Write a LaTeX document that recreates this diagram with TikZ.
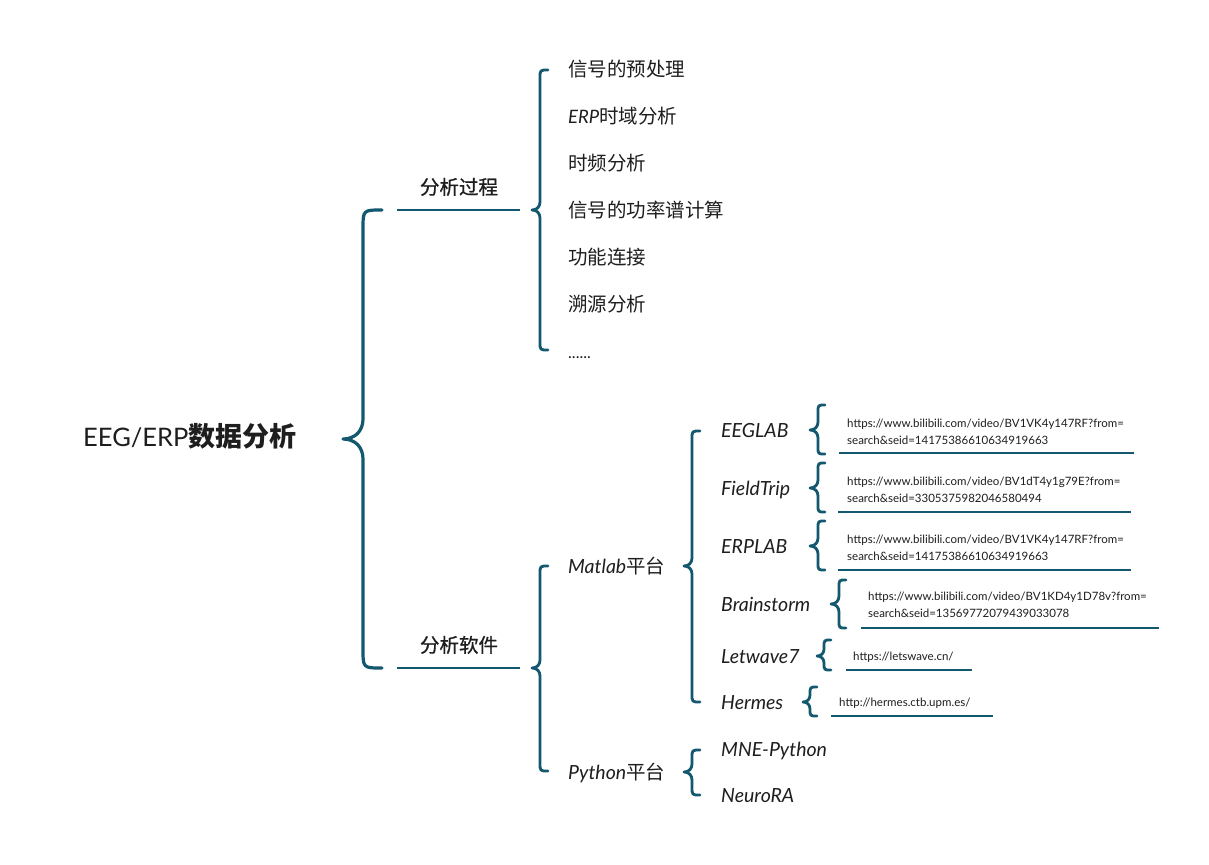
\documentclass[tikz,border=0pt]{standalone}
\usepackage{fontspec}
\setmainfont{Lato}
\newfontfamily\cjk{Noto Sans CJK SC}
\newfontfamily\cjkm[FakeBold=0.8]{Noto Sans CJK SC}
\definecolor{teal1}{HTML}{13586F}
\definecolor{ink}{HTML}{1E1E1E}
% curly brace: #1 options, #2 spine x, #3 tip y, #4 top y, #5 bottom y, #6 corner radius, #7 tip depth
\newcommand\cbr[7][]{\draw[brc,#1] ({#2+#6},#4) .. controls (#2,#4) .. (#2,{#4+#6}) -- (#2,{#3-#7}) .. controls (#2,{#3-0.4*#7}) and ({#2-0.4*#7},#3) .. ({#2-#7},#3) .. controls ({#2-0.4*#7},#3) and (#2,{#3+0.4*#7}) .. (#2,{#3+#7}) -- (#2,{#5-#6}) .. controls (#2,#5) .. ({#2+#6},#5);}
\begin{document}
\begin{tikzpicture}[x=1pt,y=-1pt,
  brc/.style={draw=teal1,line width=2.8pt,line cap=round,line join=round},
  uline/.style={draw=teal1,line width=2.2pt},
  cn/.style={font=\cjk\fontsize{19.5}{22}\selectfont,text=ink,inner sep=0pt,anchor=west,text height=0.88em,text depth=0.12em,yshift=-4pt},
  lvone/.style={font=\cjkm\fontsize{19.5}{22}\selectfont,text=ink,inner sep=0pt,text height=0.88em,text depth=0.12em,yshift=-3.5pt},
  sw/.style={font=\itshape\fontsize{19.5}{22}\selectfont,text=ink,inner sep=0pt,anchor=west,text height=0.72em,text depth=0em,yshift=-4pt},
  url/.style={font=\fontsize{11.5}{17}\selectfont,text=ink,inner sep=0pt,anchor=west,align=left,yshift=-1pt},
  rootn/.style={font=\fontsize{25.5}{30}\selectfont,text=ink,inner sep=0pt,anchor=west,text height=0.74em,text depth=0em,yshift=-4pt}]
\fill[white] (0,0) rectangle (1209,864);
\useasboundingbox (0,0) rectangle (1209,864);

% root
\node[rootn] (root) at (83,439) {EEG/ERP{\cjk\bfseries\fontsize{27}{30}\selectfont 数据分析}};

% main brace
\cbr[line width=3.2pt]{363}{439}{210}{668}{19}{20}
\coordinate (p1l) at (397,210); \coordinate (p1r) at (520,210);
\coordinate (p2l) at (397,668); \coordinate (p2r) at (520,668);
\draw[uline] (p1l) -- (p1r);
\draw[uline] (p2l) -- (p2r);
\node[lvone] (p1) at (459,187) {分析过程};
\node[lvone] (p2) at (459,645) {分析软件};

% process children
\cbr{540}{210}{70}{350}{8}{8}
\node[cn] (c1) at (568,69) {信号的预处理};
\node[cn] (c2) at (568,116) {{\rmfamily\itshape\fontsize{18.5}{22}\selectfont ERP}时域分析};
\node[cn] (c3) at (568,163) {时频分析};
\node[cn] (c4) at (568,210) {信号的功率谱计算};
\node[cn] (c5) at (568,257) {功能连接};
\node[cn] (c6) at (568,304) {溯源分析};
\node[font=\fontsize{16}{18}\selectfont,text=ink,inner sep=0pt,anchor=base west] (c7) at (568,358) {......};

% software
\cbr{540}{668}{566}{771}{8}{8}
\node[sw] (m) at (568,566) {Matlab{\cjk\fontsize{19.5}{22}\selectfont 平台}};
\node[sw] (py) at (568,772) {Python{\cjk\fontsize{19.5}{22}\selectfont 平台}};

\cbr{692}{566}{431}{702}{8}{8}
\cbr{692}{772}{750}{795}{8}{8}
\node[sw] (s1) at (721,430) {EEGLAB};
\node[sw] (s2) at (721,488) {FieldTrip};
\node[sw] (s3) at (721,546) {ERPLAB};
\node[sw] (s4) at (721,604) {Brainstorm};
\node[sw] (s5) at (721,656) {Letwave7};
\node[sw] (s6) at (721,702) {Hermes};
\node[sw] (s7) at (721,749) {MNE-Python};
\node[sw] (s8) at (721,795) {NeuroRA};

% url braces
\cbr{818}{430}{405}{454}{7}{8}
\cbr{818}{488}{463}{512}{7}{8}
\cbr{818}{546}{521}{570}{7}{8}
\cbr{839}{604}{580}{628}{7}{8}
\cbr{824}{656}{640}{670}{7}{7}
\cbr{810}{702}{687}{716}{7}{7}

\node[url] (u1) at (847,430.5) {https://www.bilibili.com/video/BV1VK4y147RF?from=\\search\&seid=14175386610634919663};
\node[url] (u2) at (847,488.5) {https://www.bilibili.com/video/BV1dT4y1g79E?from=\\search\&seid=3305375982046580494};
\node[url] (u3) at (847,546.5) {https://www.bilibili.com/video/BV1VK4y147RF?from=\\search\&seid=14175386610634919663};
\node[url] (u4) at (868,603.5) {https://www.bilibili.com/video/BV1KD4y1D78v?from=\\search\&seid=13569772079439033078};
\node[url] (u5) at (853,656) {https://letswave.cn/};
\node[url] (u6) at (839,702) {http://hermes.ctb.upm.es/};

\draw[uline] (839,453) -- (1134,453);
\draw[uline] (838,512) -- (1131,512);
\draw[uline] (838,570) -- (1131,570);
\draw[uline] (861,628) -- (1159,628);
\draw[uline] (846,670) -- (972,670);
\draw[uline] (831,716) -- (993,716);
\end{tikzpicture}
\end{document}
